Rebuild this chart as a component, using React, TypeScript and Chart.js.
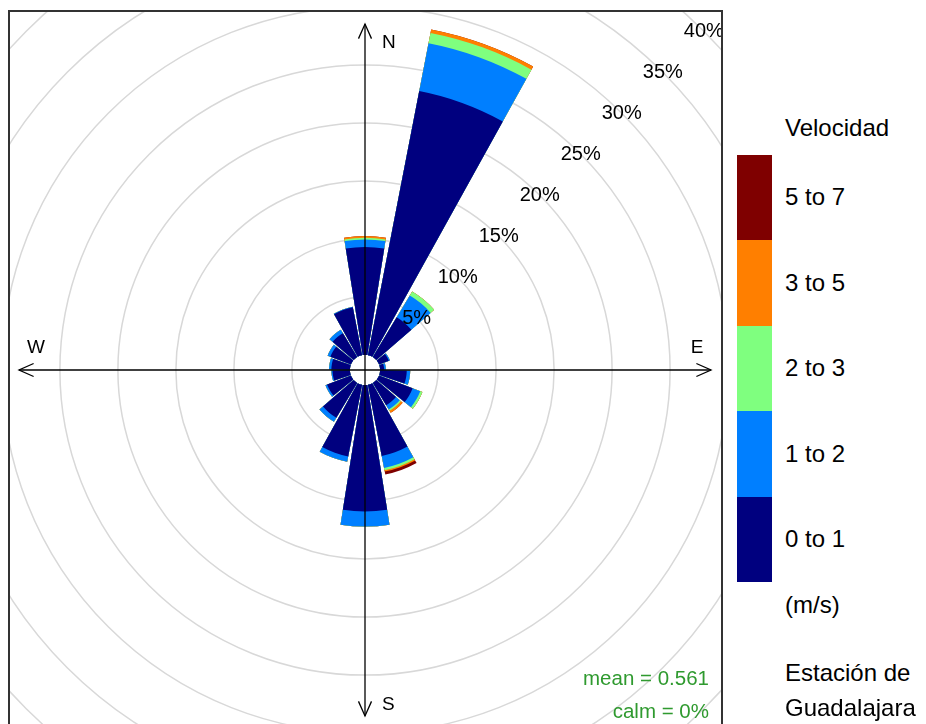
import React, { useEffect, useRef } from "react";
import { Chart, registerables } from "chart.js";

Chart.register(...registerables);

// ---------------- data ----------------
const directions = [0, 20, 40, 60, 80, 100, 120, 140, 160, 180, 200, 220, 240, 260, 280, 300, 320, 340];
const speedBins = ["0 to 1", "1 to 2", "2 to 3", "3 to 5", "5 to 7"];
const binColors = ["#00007F", "#007FFF", "#7FFF7F", "#FF7F00", "#7F0000"];
// frequency (%) by direction for each wind-speed bin
const freq0to1 = [9.3, 23.2, 4.0, 0.9, 0.35, 2.3, 3.1, 2.24, 6.25, 10.9, 6.3, 3.5, 2.2, 1.5, 1.6, 1.9, 2.4, 4.2];
const freq1to2 = [0.65, 4.2, 2.2, 0.1, 0.15, 0.3, 0.7, 0.43, 1.05, 1.3, 0.45, 0.4, 0.15, 0.1, 0.2, 0.25, 0.35, 0.05];
const freq2to3 = [0.15, 0.9, 0.4, 0, 0, 0, 0.2, 0.13, 0.2, 0, 0, 0, 0, 0, 0, 0, 0, 0];
const freq3to5 = [0.15, 0.3, 0, 0, 0, 0, 0, 0.2, 0.12, 0, 0, 0, 0, 0, 0, 0, 0, 0];
const freq5to7 = [0, 0, 0, 0, 0, 0, 0, 0, 0.25, 0, 0, 0, 0, 0, 0, 0, 0, 0];
const gridTicks = [5, 10, 15, 20, 25, 30, 35, 40];
const compassLabels = ["N", "E", "S", "W"];
const legendTitle = "Velocidad";
const unitLabel = "(m/s)";
const stationLines = ["Estación de", "Guadalajara"];
const meanText = "mean = 0.561";
const calmText = "calm = 0%";

// ---------------- layout constants ----------------
const R_MIN = -1.3; // hole in the middle (percent units)
const R_MAX = 41.8;
const SECTOR = 20; // degrees per direction
const GAP_DEG = 1; // gap on each side of a bar
const CANVAS = 1000;
const CX = 365;
const CY = 370;
const BOX_L = 8;
const BOX_T = 10;
const BOX_BW = 2;
const FONT = '"Liberation Sans", Arial, Helvetica, sans-serif';

const allBins = [freq0to1, freq1to2, freq2to3, freq3to5, freq5to7];

function cumulative(): number[][] {
  const out: number[][] = [];
  allBins.forEach((bin, b) => {
    out.push(bin.map((v, i) => (b === 0 ? v : out[b - 1][i] + v)));
  });
  return out;
}

const roseShape = {
  id: "roseShape",
  afterDatasetsUpdate(chart: any) {
    const scale = chart.scales.r;
    const r0 = scale.getDistanceFromCenterForValue(0);
    const g = (GAP_DEG * Math.PI) / 180;
    chart.data.datasets.forEach((_: any, i: number) => {
      const meta = chart.getDatasetMeta(i);
      meta.data.forEach((el: any) => {
        el.innerRadius = r0;
        el.startAngle = el.startAngle + g;
        el.endAngle = el.endAngle - g;
        if (el.circumference !== undefined) el.circumference = el.endAngle - el.startAngle;
      });
    });
  },
};

const decorations = {
  id: "decorations",
  afterDatasetsDraw(chart: any) {
    const ctx: CanvasRenderingContext2D = chart.ctx;
    const s = chart.scales.r;
    const cx = s.xCenter;
    const cy = s.yCenter;
    const AX = 346;
    const HL = 16;
    const HA = (24 * Math.PI) / 180;
    ctx.save();
    ctx.strokeStyle = "#000";
    ctx.lineWidth = 1.3;
    const arrow = (x1: number, y1: number, x2: number, y2: number) => {
      ctx.beginPath();
      ctx.moveTo(x1, y1);
      ctx.lineTo(x2, y2);
      ctx.stroke();
      const a = Math.atan2(y2 - y1, x2 - x1);
      ctx.beginPath();
      ctx.moveTo(x2 - HL * Math.cos(a - HA), y2 - HL * Math.sin(a - HA));
      ctx.lineTo(x2, y2);
      ctx.lineTo(x2 - HL * Math.cos(a + HA), y2 - HL * Math.sin(a + HA));
      ctx.stroke();
    };
    arrow(cx, cy, cx, cy - AX);
    arrow(cx, cy, cx, cy + AX);
    arrow(cx, cy, cx - AX, cy);
    arrow(cx, cy, cx + AX, cy);

    // tick labels along 45 degrees
    ctx.fillStyle = "#000";
    ctx.font = `20px ${FONT}`;
    ctx.textAlign = "center";
    ctx.textBaseline = "middle";
    gridTicks.forEach((v) => {
      const d = s.getDistanceFromCenterForValue(v);
      ctx.fillText(`${v}%`, cx + d * Math.SQRT1_2, cy - d * Math.SQRT1_2);
    });

    // compass labels
    ctx.font = `19px ${FONT}`;
    ctx.textAlign = "left";
    ctx.fillText(compassLabels[0], cx + 17, cy - 327);
    ctx.fillText(compassLabels[2], cx + 17, cy + 335);
    ctx.textAlign = "center";
    ctx.fillText(compassLabels[1], cx + 332, cy - 22);
    ctx.fillText(compassLabels[3], cx - 329, cy - 22);
    ctx.restore();
  },
};

export default function App() {
  const ref = useRef<HTMLCanvasElement | null>(null);

  useEffect(() => {
    if (!ref.current) return;
    const cum = cumulative();
    const chart = new Chart(ref.current, {
      type: "polarArea",
      data: {
        labels: directions.map((d) => `${d}`),
        datasets: cum.map((vals, b) => ({
          label: speedBins[b],
          data: vals,
          backgroundColor: binColors[b],
          borderWidth: 0,
        })),
      },
      options: {
        responsive: false,
        animation: false,
        events: [],
        layout: { padding: 0 },
        plugins: { legend: { display: false }, tooltip: { enabled: false }, title: { display: false } },
        scales: {
          r: {
            type: "radialLinear",
            min: R_MIN,
            max: R_MAX,
            beginAtZero: false,
            startAngle: -SECTOR / 2,
            ticks: { display: false, stepSize: 5, includeBounds: false, maxTicksLimit: 30 },
            grid: {
              circular: true,
              lineWidth: 1.5,
              color: (c: any) => (c.tick && c.tick.value > 0 ? "#d8d8d8" : "rgba(0,0,0,0)"),
            },
            angleLines: { display: false },
            pointLabels: { display: false },
          },
        },
      } as any,
      plugins: [roseShape, decorations],
    });
    return () => chart.destroy();
  }, []);

  const segH = 85.4;
  const barTop = 155;
  const LF = 24;
  const legendOrder = speedBins.map((l, i) => ({ l, c: binColors[i] })).reverse();
  const txt = (content: string, left: number, cy: number, size: number, extra: any = {}) => (
    <div
      key={content + cy}
      style={{
        position: "absolute",
        left,
        top: cy - size * 0.6,
        fontFamily: FONT,
        fontSize: size,
        lineHeight: `${size * 1.2}px`,
        whiteSpace: "nowrap",
        color: "#000",
        ...extra,
      }}
    >
      {content}
    </div>
  );

  return (
    <div style={{ position: "absolute", left: 0, top: 0, width: 926, height: 724, overflow: "hidden", background: "#fff" }}>
      <div
        style={{
          position: "absolute",
          left: BOX_L,
          top: BOX_T,
          width: 715,
          height: 740,
          border: `${BOX_BW}px solid #333`,
          boxSizing: "border-box",
          overflow: "hidden",
        }}
      >
        <canvas
          ref={ref}
          width={CANVAS}
          height={CANVAS}
          style={{
            position: "absolute",
            left: CX - CANVAS / 2 - BOX_L - BOX_BW,
            top: CY - CANVAS / 2 - BOX_T - BOX_BW,
            width: CANVAS,
            height: CANVAS,
          }}
        />
      </div>
      {/* mean / calm */}
      <div style={{ position: "absolute", right: 926 - 709, top: 666, fontFamily: FONT, fontSize: 20.5, lineHeight: "24px", color: "#2f9a2f", textAlign: "right", whiteSpace: "nowrap" }}>
        {meanText}
      </div>
      <div style={{ position: "absolute", right: 926 - 709, top: 699, fontFamily: FONT, fontSize: 20.5, lineHeight: "24px", color: "#2f9a2f", textAlign: "right", whiteSpace: "nowrap" }}>
        {calmText}
      </div>
      {/* legend */}
      {txt(legendTitle, 785, 128, LF)}
      {legendOrder.map((e, i) => (
        <div
          key={e.l}
          style={{ position: "absolute", left: 737, top: barTop + i * segH, width: 35, height: segH + 0.5, background: e.c }}
        />
      ))}
      {legendOrder.map((e, i) => txt(e.l, 785, barTop + (i + 0.5) * segH, LF))}
      {txt(unitLabel, 785, 605, LF)}
      {txt(stationLines[0], 785, 673, LF)}
      {txt(stationLines[1], 785, 708, LF)}
    </div>
  );
}
